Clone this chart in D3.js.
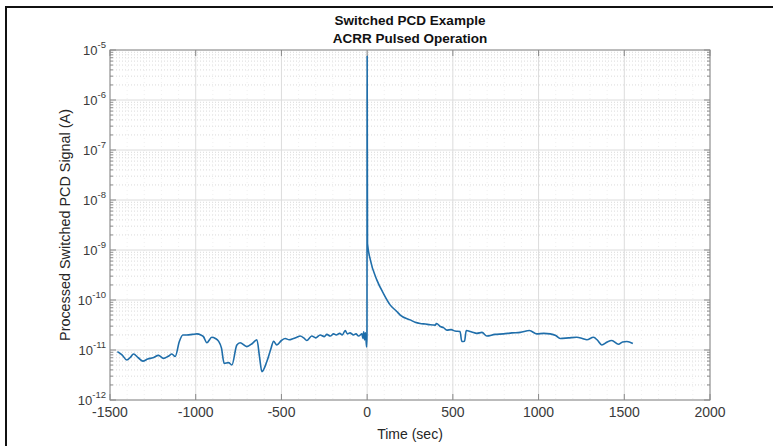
<!DOCTYPE html>
<html>
<head>
<meta charset="utf-8">
<script src="https://cdn.jsdelivr.net/npm/d3@7"></script>
<style>
  body { margin: 0; background: #fff; }
  svg text { font-family: "Liberation Sans", Arial, sans-serif; }
</style>
</head>
<body>
<div id="chart"></div>
<script>
'use strict';

// ---- data ----
const timeSec = [
  -1457, -1430, -1402, -1380, -1363, -1335, -1308, -1280, -1250, -1217,
  -1188, -1160, -1139, -1120, -1095, -1075, -1052, -1020, -993, -970,
  -955, -935, -906, -885, -867, -850, -834, -809, -789, -760,
  -741, -702, -670, -643, -628, -614, -585, -560, -546, -527,
  -500, -478, -455, -430, -410, -391, -370, -352, -323, -300,
  -274, -250, -235, -215, -196, -180, -160, -145, -128, -115,
  -100, -80, -65, -50, -30, -25, -20, -15, -10, -6,
  -3, -1, 0, 2, 18, 57, 95, 135, 173, 193,
  251, 280, 309, 340, 368, 397, 405, 426, 445, 465,
  490, 513, 542, 552, 568, 578, 610, 640, 670, 698,
  745, 795, 845, 893, 947, 990, 1030, 1068, 1100, 1126,
  1175, 1223, 1255, 1282, 1320, 1345, 1369, 1400, 1427, 1466,
  1490, 1515, 1550
];
const signalA = [
  9.3e-12, 8.0e-12, 6.3e-12, 7.2e-12, 8.3e-12, 7.0e-12, 6.0e-12, 6.6e-12, 7.0e-12, 7.8e-12,
  6.8e-12, 7.5e-12, 8.3e-12, 7.4e-12, 1.5e-11, 2.0e-11, 2.0e-11, 2.05e-11, 2.1e-11, 2.0e-11,
  1.85e-11, 1.4e-11, 1.8e-11, 1.7e-11, 1.5e-11, 1.1e-11, 5.4e-12, 5.6e-12, 5.0e-12, 1.26e-11,
  1.4e-11, 1.17e-11, 1.35e-11, 1.6e-11, 7.4e-12, 3.7e-12, 5.9e-12, 1.1e-11, 1.5e-11, 1.26e-11,
  1.55e-11, 1.7e-11, 1.6e-11, 1.7e-11, 1.8e-11, 1.9e-11, 1.75e-11, 1.55e-11, 1.9e-11, 1.75e-11,
  2.0e-11, 1.85e-11, 2.05e-11, 1.9e-11, 2.1e-11, 2.0e-11, 2.15e-11, 2.0e-11, 2.45e-11, 2.1e-11,
  2.2e-11, 2.0e-11, 2.1e-11, 1.9e-11, 2.1e-11, 1.7e-11, 2.3e-11, 1.6e-11, 2.2e-11, 1.5e-11,
  1.15e-11, 2.0e-11, 7.6e-6, 1.35e-9, 6.5e-10, 2.5e-10, 1.35e-10, 7.9e-11, 5.9e-11, 5.0e-11,
  4.0e-11, 3.6e-11, 3.4e-11, 3.3e-11, 3.2e-11, 3.15e-11, 3.4e-11, 2.95e-11, 2.8e-11, 2.5e-11,
  2.55e-11, 2.4e-11, 2.35e-11, 1.48e-11, 1.5e-11, 2.45e-11, 2.3e-11, 2.15e-11, 2.25e-11, 1.9e-11,
  2.05e-11, 2.1e-11, 2.2e-11, 2.25e-11, 2.45e-11, 2.1e-11, 2.15e-11, 2.1e-11, 1.95e-11, 1.7e-11,
  1.75e-11, 1.8e-11, 1.7e-11, 1.6e-11, 1.8e-11, 1.55e-11, 1.26e-11, 1.45e-11, 1.55e-11, 1.3e-11,
  1.45e-11, 1.48e-11, 1.35e-11
];
const xTicks = [-1500, -1000, -500, 0, 500, 1000, 1500, 2000];
const yExponents = [-12, -11, -10, -9, -8, -7, -6, -5];
const titleLines = ['Switched PCD Example', 'ACRR Pulsed Operation'];

const points = timeSec.map((t, i) => ({ t, v: signalA[i] }));

// ---- layout ----
const W = 773, H = 446;
const plot = { left: 110, right: 710, top: 50, bottom: 400 };

const svg = d3.select('#chart').append('svg')
  .attr('width', W)
  .attr('height', H);

// outer frame (only left + top edges fall inside the picture)
svg.append('rect')
  .attr('x', 6).attr('y', 7)
  .attr('width', W + 10).attr('height', H + 10)
  .attr('fill', 'none')
  .attr('stroke', '#111')
  .attr('stroke-width', 2);

const x = d3.scaleLinear().domain([-1500, 2000]).range([plot.left, plot.right]);
const y = d3.scaleLog().domain([1e-12, 1e-5]).range([plot.bottom, plot.top]);

// ---- grid ----
const grid = svg.append('g');

// minor y grid (dotted)
yExponents.slice(0, -1).forEach(e => {
  for (let k = 2; k <= 9; k++) {
    const yy = y(k * Math.pow(10, e));
    grid.append('line')
      .attr('x1', plot.left).attr('x2', plot.right)
      .attr('y1', yy).attr('y2', yy)
      .attr('stroke', '#d0d0d0')
      .attr('stroke-width', 0.8)
      .attr('stroke-dasharray', '1,2');
  }
});

// minor x grid (dotted)
for (let t = -1400; t < 2000; t += 100) {
  if (t % 500 === 0) continue;
  grid.append('line')
    .attr('x1', x(t)).attr('x2', x(t))
    .attr('y1', plot.top).attr('y2', plot.bottom)
    .attr('stroke', '#e6e6e6')
    .attr('stroke-width', 0.6)
    .attr('stroke-dasharray', '1,3');
}

// major grid
yExponents.forEach(e => {
  const yy = y(Math.pow(10, e));
  grid.append('line')
    .attr('x1', plot.left).attr('x2', plot.right)
    .attr('y1', yy).attr('y2', yy)
    .attr('stroke', '#dcdcdc')
    .attr('stroke-width', 1);
});
xTicks.forEach(t => {
  grid.append('line')
    .attr('x1', x(t)).attr('x2', x(t))
    .attr('y1', plot.top).attr('y2', plot.bottom)
    .attr('stroke', '#dcdcdc')
    .attr('stroke-width', 1);
});

// ---- data line ----
const line = d3.line()
  .x(d => x(d.t))
  .y(d => y(d.v))
  .curve(d3.curveMonotoneX);

svg.append('path')
  .datum(points)
  .attr('d', line)
  .attr('fill', 'none')
  .attr('stroke', '#1f6eaa')
  .attr('stroke-width', 1.6)
  .attr('stroke-linejoin', 'round');

// ---- axes box ----
const axisColor = '#8a8a8a';
svg.append('rect')
  .attr('x', plot.left).attr('y', plot.top)
  .attr('width', plot.right - plot.left)
  .attr('height', plot.bottom - plot.top)
  .attr('fill', 'none')
  .attr('stroke', axisColor)
  .attr('stroke-width', 1);

// y ticks (major + minor, both sides)
yExponents.forEach((e, i) => {
  const yy = y(Math.pow(10, e));
  [[plot.left, plot.left + 6], [plot.right, plot.right - 6]].forEach(([a, b]) => {
    svg.append('line').attr('x1', a).attr('x2', b).attr('y1', yy).attr('y2', yy)
      .attr('stroke', axisColor);
  });
  if (i < yExponents.length - 1) {
    for (let k = 2; k <= 9; k++) {
      const ym = y(k * Math.pow(10, e));
      [[plot.left, plot.left + 3], [plot.right, plot.right - 3]].forEach(([a, b]) => {
        svg.append('line').attr('x1', a).attr('x2', b).attr('y1', ym).attr('y2', ym)
          .attr('stroke', axisColor);
      });
    }
  }
});

// x ticks (bottom + top)
xTicks.forEach(t => {
  const xx = x(t);
  [[plot.bottom, plot.bottom - 6], [plot.top, plot.top + 6]].forEach(([a, b]) => {
    svg.append('line').attr('x1', xx).attr('x2', xx).attr('y1', a).attr('y2', b)
      .attr('stroke', axisColor);
  });
});

// ---- tick labels ----
const labelColor = '#3a3a3a';

xTicks.forEach(t => {
  svg.append('text')
    .attr('x', x(t))
    .attr('y', plot.bottom + 17)
    .attr('text-anchor', 'middle')
    .attr('font-size', 14)
    .attr('fill', labelColor)
    .text(t);
});

yExponents.forEach(e => {
  const yy = y(Math.pow(10, e));
  const txt = svg.append('text')
    .attr('x', plot.left - 4)
    .attr('y', yy + 5)
    .attr('text-anchor', 'end')
    .attr('font-size', 13)
    .attr('fill', labelColor);
  txt.append('tspan').text('10');
  txt.append('tspan')
    .attr('dy', -7)
    .attr('font-size', 9.5)
    .text(e);
});

// ---- axis titles ----
svg.append('text')
  .attr('x', (plot.left + plot.right) / 2)
  .attr('y', 439)
  .attr('text-anchor', 'middle')
  .attr('font-size', 14)
  .attr('fill', '#262626')
  .text('Time (sec)');

svg.append('text')
  .attr('transform', `translate(70,${(plot.top + plot.bottom) / 2}) rotate(-90)`)
  .attr('text-anchor', 'middle')
  .attr('font-size', 14.4)
  .attr('fill', '#262626')
  .text('Processed Switched PCD Signal (A)');

// ---- title ----
titleLines.forEach((s, i) => {
  svg.append('text')
    .attr('x', (plot.left + plot.right) / 2)
    .attr('y', 25 + i * 18)
    .attr('text-anchor', 'middle')
    .attr('font-size', 13.5)
    .attr('font-weight', 700)
    .attr('fill', '#111')
    .text(s);
});
</script>
</body>
</html>
